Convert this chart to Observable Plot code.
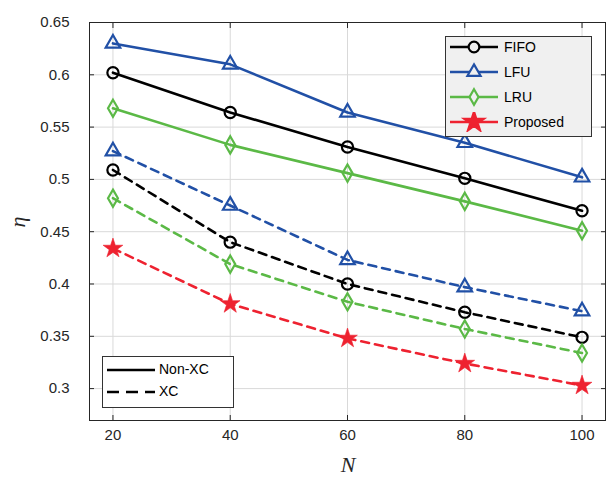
<!DOCTYPE html>
<html>
<head>
<meta charset="utf-8">
<script src="https://cdn.jsdelivr.net/npm/d3@7"></script>
<script src="https://cdn.jsdelivr.net/npm/@observablehq/plot@0.6"></script>
<style>
  html, body { margin: 0; padding: 0; background: #fff; }
  #chart { position: relative; width: 610px; height: 477px; }
  .leg { position: absolute; font-family: "Liberation Sans", Arial, sans-serif; font-size: 13px; color: #000; }
  .leg .row { position: absolute; left: 0; height: 20px; display: flex; align-items: center; }
  .leg svg { display: block; }
</style>
</head>
<body>
<div id="chart"></div>
<script>
const N = [20, 40, 60, 80, 100];
const fifoNonXC = [0.602, 0.564, 0.531, 0.501, 0.470];
const lfuNonXC  = [0.630, 0.610, 0.564, 0.535, 0.502];
const lruNonXC  = [0.568, 0.533, 0.506, 0.479, 0.451];
const fifoXC    = [0.509, 0.440, 0.400, 0.373, 0.349];
const lfuXC     = [0.527, 0.475, 0.423, 0.397, 0.374];
const lruXC     = [0.482, 0.419, 0.383, 0.357, 0.334];
const proposedXC = [0.434, 0.381, 0.348, 0.324, 0.303];
const xTicks = [20, 40, 60, 80, 100];
const yTicks = [0.3, 0.35, 0.4, 0.45, 0.5, 0.55, 0.6, 0.65];

const colors = {FIFO: "#000000", LFU: "#2150a6", LRU: "#5bb946", Proposed: "#ee2230"};

const seriesList = [
  {method: "LFU", kind: "Non-XC", values: lfuNonXC},
  {method: "FIFO", kind: "Non-XC", values: fifoNonXC},
  {method: "LRU", kind: "Non-XC", values: lruNonXC},
  {method: "LFU", kind: "XC", values: lfuXC},
  {method: "FIFO", kind: "XC", values: fifoXC},
  {method: "LRU", kind: "XC", values: lruXC},
  {method: "Proposed", kind: "XC", values: proposedXC}
];
const rows = seriesList.flatMap(s => s.values.map((v, i) => ({N: N[i], eta: v, method: s.method, kind: s.kind, key: s.method + s.kind})));

const lineMarks = seriesList.map(s => Plot.line(rows.filter(r => r.key === s.method + s.kind), {
  x: "N", y: "eta", stroke: colors[s.method], strokeWidth: 2.6,
  strokeDasharray: s.kind === "XC" ? "8,6" : null
}));
const symbolOf = {LFU: "triangle", FIFO: "circle", LRU: "diamond"};
const rOf = {LFU: 5.4, FIFO: 5.6, LRU: 5.2};
const dotMarks = ["LFU", "FIFO", "LRU"].map(m => Plot.dot(rows.filter(r => r.method === m), {
  x: "N", y: "eta", symbol: () => symbolOf[m], r: rOf[m], fill: "none", stroke: colors[m], strokeWidth: 2.2
}));
dotMarks.push(Plot.dot(rows.filter(r => r.method === "Proposed"), {
  x: "N", y: "eta", symbol: () => "star", r: 6.2, fill: colors.Proposed, stroke: colors.Proposed, strokeWidth: 0.6
}));

const font = "'Liberation Sans', Arial, sans-serif";
const chart = Plot.plot({
  width: 610, height: 477,
  marginLeft: 89, marginRight: 5, marginTop: 22, marginBottom: 57,
  style: {fontFamily: font, fontSize: "15px", background: "white", color: "#262626"},
  x: {domain: [16, 104]},
  y: {domain: [0.2695, 0.65]},
  symbol: {type: "identity"},
  marks: [
    Plot.gridX(xTicks, {stroke: "#d9d9d9", strokeOpacity: 1, strokeWidth: 1}),
    Plot.gridY(yTicks.slice(0, -1), {stroke: "#d9d9d9", strokeOpacity: 1, strokeWidth: 1}),
    Plot.axisX(xTicks, {anchor: "bottom", tickSize: -5, tickPadding: 14, label: null, stroke: "#262626", fontSize: 15}),
    Plot.axisX(xTicks, {anchor: "top", tickSize: -5, tickFormat: () => "", label: null, stroke: "#262626"}),
    Plot.axisY(yTicks, {anchor: "left", tickSize: -5, tickPadding: 25, label: null, tickFormat: d => String(+d.toFixed(2)), stroke: "#262626", fontSize: 15}),
    Plot.axisY(yTicks, {anchor: "right", tickSize: -5, tickFormat: () => "", label: null, stroke: "#262626"}),
    ...lineMarks,
    ...dotMarks,
    Plot.frame({stroke: "#262626", strokeWidth: 1})
  ]
});
const container = document.getElementById("chart");
container.appendChild(chart);

const ns = "http://www.w3.org/2000/svg";
function addText(x, y, txt, rotate) {
  const t = document.createElementNS(ns, "text");
  t.setAttribute("x", x); t.setAttribute("y", y);
  t.setAttribute("text-anchor", "middle");
  t.setAttribute("font-family", "'Liberation Serif', 'DejaVu Serif', serif");
  t.setAttribute("font-style", "italic");
  t.setAttribute("font-size", "22");
  t.setAttribute("fill", "#262626");
  if (rotate) t.setAttribute("transform", `rotate(-90 ${x} ${y})`);
  t.textContent = txt;
  chart.appendChild(t);
}
addText(348, 472, "N", false);
addText(25, 222, "η", true);

// Legend 1 (methods)
const methods = ["FIFO", "LFU", "LRU", "Proposed"];
const leg1 = document.createElement("div");
leg1.className = "leg";
Object.assign(leg1.style, {left: "445px", top: "36px", width: "147px", height: "101px", background: "#f0f0f0", border: "1px solid #333", boxSizing: "border-box"});
methods.forEach((m, i) => {
  const row = document.createElement("div");
  row.className = "row";
  row.style.top = (0 + i * 25) + "px";
  const type = m === "FIFO" ? d3.symbolCircle : m === "LFU" ? d3.symbolTriangle : m === "LRU" ? d3.symbolDiamond : d3.symbolStar;
  const area = m === "Proposed" ? 120 : m === "LFU" ? 75 : m === "LRU" ? 70 : 90;
  const sym = d3.symbol(type, area)();
  const filled = m === "Proposed";
  row.innerHTML = `<svg width="56" height="20"><line x1="4" x2="52" y1="10" y2="10" stroke="${colors[m]}" stroke-width="2.6"/>` +
    `<path d="${sym}" transform="translate(28,10)" fill="${filled ? colors[m] : "#f0f0f0"}" stroke="${colors[m]}" stroke-width="2.2"/></svg>` +
    `<span style="margin-left:2px;font-size:14px">${m}</span>`;
  leg1.appendChild(row);
});
container.appendChild(leg1);

// Legend 2 (line styles)
const kinds = [["Non-XC", null], ["XC", "12,7"]];
const leg2 = document.createElement("div");
leg2.className = "leg";
Object.assign(leg2.style, {left: "102px", top: "356px", width: "132px", height: "52px", background: "#fff", border: "1px solid #333", boxSizing: "border-box"});
kinds.forEach(([k, dash], i) => {
  const row = document.createElement("div");
  row.className = "row";
  row.style.top = (2 + i * 22) + "px";
  row.innerHTML = `<svg width="56" height="20"><line x1="4" x2="52" y1="11" y2="11" stroke="#000" stroke-width="2.6" ${dash ? `stroke-dasharray="${dash}"` : ""}/></svg>` +
    `<span style="margin-left:0px;font-size:14px">${k}</span>`;
  leg2.appendChild(row);
});
container.appendChild(leg2);
</script>
</body>
</html>
